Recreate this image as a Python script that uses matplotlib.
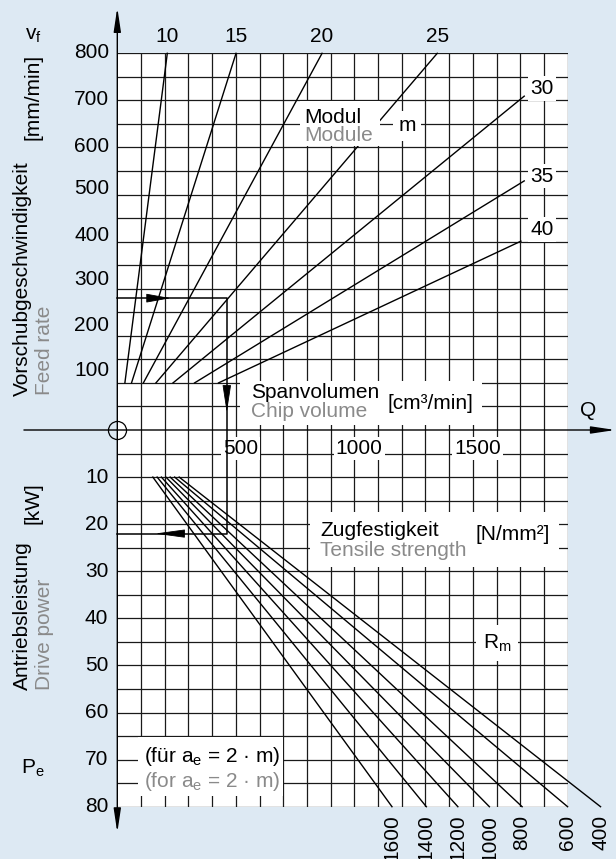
import matplotlib
matplotlib.use("Agg")
import matplotlib.pyplot as plt
import numpy as np
from matplotlib.patches import Rectangle

plt.rcParams['font.family'] = ['Liberation Sans', 'DejaVu Sans']
plt.rcParams['mathtext.fontset'] = 'custom'
plt.rcParams['mathtext.rm'] = 'Liberation Sans'

# ---- data ----
vf_ticks = [100, 200, 300, 400, 500, 600, 700, 800]      # mm/min
pe_ticks = [10, 20, 30, 40, 50, 60, 70, 80]              # kW
q_ticks = [500, 1000, 1500]                              # cm3/min

modules = [10, 15, 20, 25, 30, 35, 40]
mod_q_start = [32, 60, 110, 163, 235, 326, 427]          # Q at vf = 100
mod_q_end = [211, 501, 864, 1350, 1717, 1717, 1703]
mod_vf_end = [800, 800, 800, 800, 709, 529, 401]

rm_values = [1600, 1400, 1200, 1000, 800, 600, 400]      # N/mm2
rm_q_start = [150, 168, 186, 205, 223, 242, 261]         # Q at Pe = 10
rm_q_end = [1159, 1304, 1437, 1570, 1708, 1900, 2039]    # Q at Pe = 80

ex_vf, ex_q, ex_pe = 280, 462, 22                        # worked example

# lower half: Pe plotted downwards, 10 units per kW
K = 10
BG = '#dde9f3'
GREY = '#8a8a8a'
FS = 15

fig = plt.figure(figsize=(6.16, 8.59), dpi=100, facecolor=BG)
W, H = 616, 859
ax = fig.add_axes([117.3 / W, (H - 806.7) / H, 450.3 / W, 753.4 / H])
ax.set_xlim(0, 1900)
ax.set_ylim(-800, 800)
ax.axis('off')

def fpx(x, y):
    return x / W, 1 - y / H

# white chart area + grid
ax.add_patch(Rectangle((0, -800), 1900, 1600, facecolor='white', edgecolor='none', zorder=0))
ax.vlines(np.arange(100, 1901, 100), -800, 800, color='#1a1a1a', lw=0.9, zorder=1)
hl = np.arange(-800, 801, 50)
ax.hlines(hl[hl != 0], 0, 1900, color='#1a1a1a', lw=0.9, zorder=1)

# module lines (upper half)
for qs, qe, ve in zip(mod_q_start, mod_q_end, mod_vf_end):
    ax.plot([qs, qe], [100, ve], color='black', lw=1.0, zorder=2, clip_on=False)
for m, qe, ve in zip(modules[:4], mod_q_end[:4], mod_vf_end[:4]):
    ax.annotate(str(m), (qe, ve), xytext=(0, 12), textcoords='offset points',
                ha='center', va='center', fontsize=FS, annotation_clip=False)
side_dy = [16, 10, 25]
for m, ve, dy in zip(modules[4:], mod_vf_end[4:], side_dy):
    ax.text(1792, ve + dy, str(m), ha='center', va='center', fontsize=FS, zorder=4,
            bbox=dict(facecolor='white', edgecolor='none', pad=2))

# tensile strength lines (lower half)
for qs, qe in zip(rm_q_start, rm_q_end):
    ax.plot([qs, qe], [-10 * K, -80 * K], color='black', lw=1.0, zorder=2, clip_on=False)
for r, qe in zip(rm_values, rm_q_end):
    ax.text(qe, -817, str(r), rotation=90, ha='center', va='top', fontsize=FS, clip_on=False)

# label boxes
for x0, y0, w, h in [(519, 10, 1021, 95), (772, 603, 337, 95),
                     (815, -292, 1047, 117), (88, -778, 612, 126)]:
    ax.add_patch(Rectangle((x0, y0), w, h, facecolor='white', edgecolor='none', zorder=3))

ax.text(565, 69, 'Spanvolumen', fontsize=FS, va='baseline', zorder=4)
ax.text(565, 27, 'Chip volume', fontsize=FS, va='baseline', color=GREY, zorder=4)
ax.text(1138, 45, '[cm³/min]', fontsize=FS, va='baseline', zorder=4)

ax.text(788, 652, 'Modul', fontsize=FS, va='baseline', zorder=4)
ax.text(788, 614, 'Module', fontsize=FS, va='baseline', color=GREY, zorder=4)
ax.text(1222, 646, 'm', fontsize=FS, ha='center', va='center', zorder=4,
        bbox=dict(facecolor='white', edgecolor='none', pad=4))

ax.text(856, -226, 'Zugfestigkeit', fontsize=FS, va='baseline', zorder=4)
ax.text(856, -268, 'Tensile strength', fontsize=FS, va='baseline', color=GREY, zorder=4)
ax.text(1510, -233, '[N/mm²]', fontsize=FS, va='baseline', zorder=4)

ax.text(1602, -452, r'R$_\mathregular{m}$', fontsize=FS, ha='center', va='center', zorder=4,
        bbox=dict(facecolor='white', edgecolor='none', pad=5))

ax.text(113, -705, r'(für a$_\mathregular{e}$ = 2 · m)', fontsize=FS, va='baseline', zorder=4)
ax.text(113, -758, r'(for a$_\mathregular{e}$ = 2 · m)', fontsize=FS, va='baseline',
        color=GREY, zorder=4)

# tick labels
vf_dy = [26, 22, 20, 14, 13, 2, 2, 1]
for v, dy in zip(vf_ticks, vf_dy):
    ax.text(-33, v + dy, str(v), ha='right', va='center', fontsize=FS)
for p in pe_ticks:
    ax.text(-38, -p * K, str(p), ha='right', va='center', fontsize=FS)
for q in q_ticks:
    ax.text(q + 20, -40, str(q), ha='center', va='center', fontsize=FS, zorder=4,
            bbox=dict(facecolor='white', edgecolor='none', pad=1.5))

# axes with arrows
axis_arrow = dict(arrowstyle='-|>,head_length=0.8,head_width=0.12', mutation_scale=18,
                  lw=1.0, color='black', shrinkA=0, shrinkB=0)
ax.annotate('', xy=(2101, 0), xytext=(-394, 0), arrowprops=axis_arrow,
            annotation_clip=False, zorder=5)
ax.annotate('', xy=(0, 897), xytext=(0, 0), arrowprops=axis_arrow,
            annotation_clip=False, zorder=5)
ax.annotate('', xy=(0, -855), xytext=(0, 0), arrowprops=axis_arrow,
            annotation_clip=False, zorder=5)
ax.plot([0], [0], marker='o', ms=13, mfc='none', mec='black', mew=0.9,
        clip_on=False, zorder=6)

# worked example path
ax.plot([0, ex_q, ex_q, 0], [ex_vf, ex_vf, -ex_pe * K, -ex_pe * K],
        color='black', lw=1.1, zorder=5, clip_on=False)

def head(tip, base, length, width):
    ax.annotate('', xy=tip, xytext=base, annotation_clip=False, zorder=5,
                arrowprops=dict(arrowstyle='-|>,head_length=%g,head_width=%g' % (length, width),
                                mutation_scale=10, lw=0.6, color='black',
                                shrinkA=0, shrinkB=0))

head((225, ex_vf), (130, ex_vf), 1.55, 0.28)
head((ex_q, 37), (ex_q, 90), 1.75, 0.27)
head((159, -ex_pe * K), (273, -ex_pe * K), 1.9, 0.26)

# axis titles
fig.text(*fpx(33, 36), r'v$_\mathregular{f}$', fontsize=FS, ha='center', va='center')
fig.text(*fpx(22, 396), 'Vorschubgeschwindigkeit', rotation=90, fontsize=FS,
         ha='center', va='bottom')
fig.text(*fpx(33, 140), '[mm/min]', rotation=90, fontsize=FS, ha='center', va='bottom')
fig.text(*fpx(44, 395), 'Feed rate', rotation=90, fontsize=FS, ha='center', va='bottom',
         color=GREY)
fig.text(*fpx(22, 690), 'Antriebsleistung', rotation=90, fontsize=FS, ha='center',
         va='bottom')
fig.text(*fpx(33, 524), '[kW]', rotation=90, fontsize=FS, ha='center', va='bottom')
fig.text(*fpx(44, 690), 'Drive power', rotation=90, fontsize=FS, ha='center', va='bottom',
         color=GREY)
fig.text(*fpx(33, 768), r'P$_\mathregular{e}$', fontsize=FS, ha='center', va='center')
fig.text(*fpx(588, 410), 'Q', fontsize=FS, ha='center', va='center')

fig.savefig('out.png', dpi=100, facecolor=BG)
